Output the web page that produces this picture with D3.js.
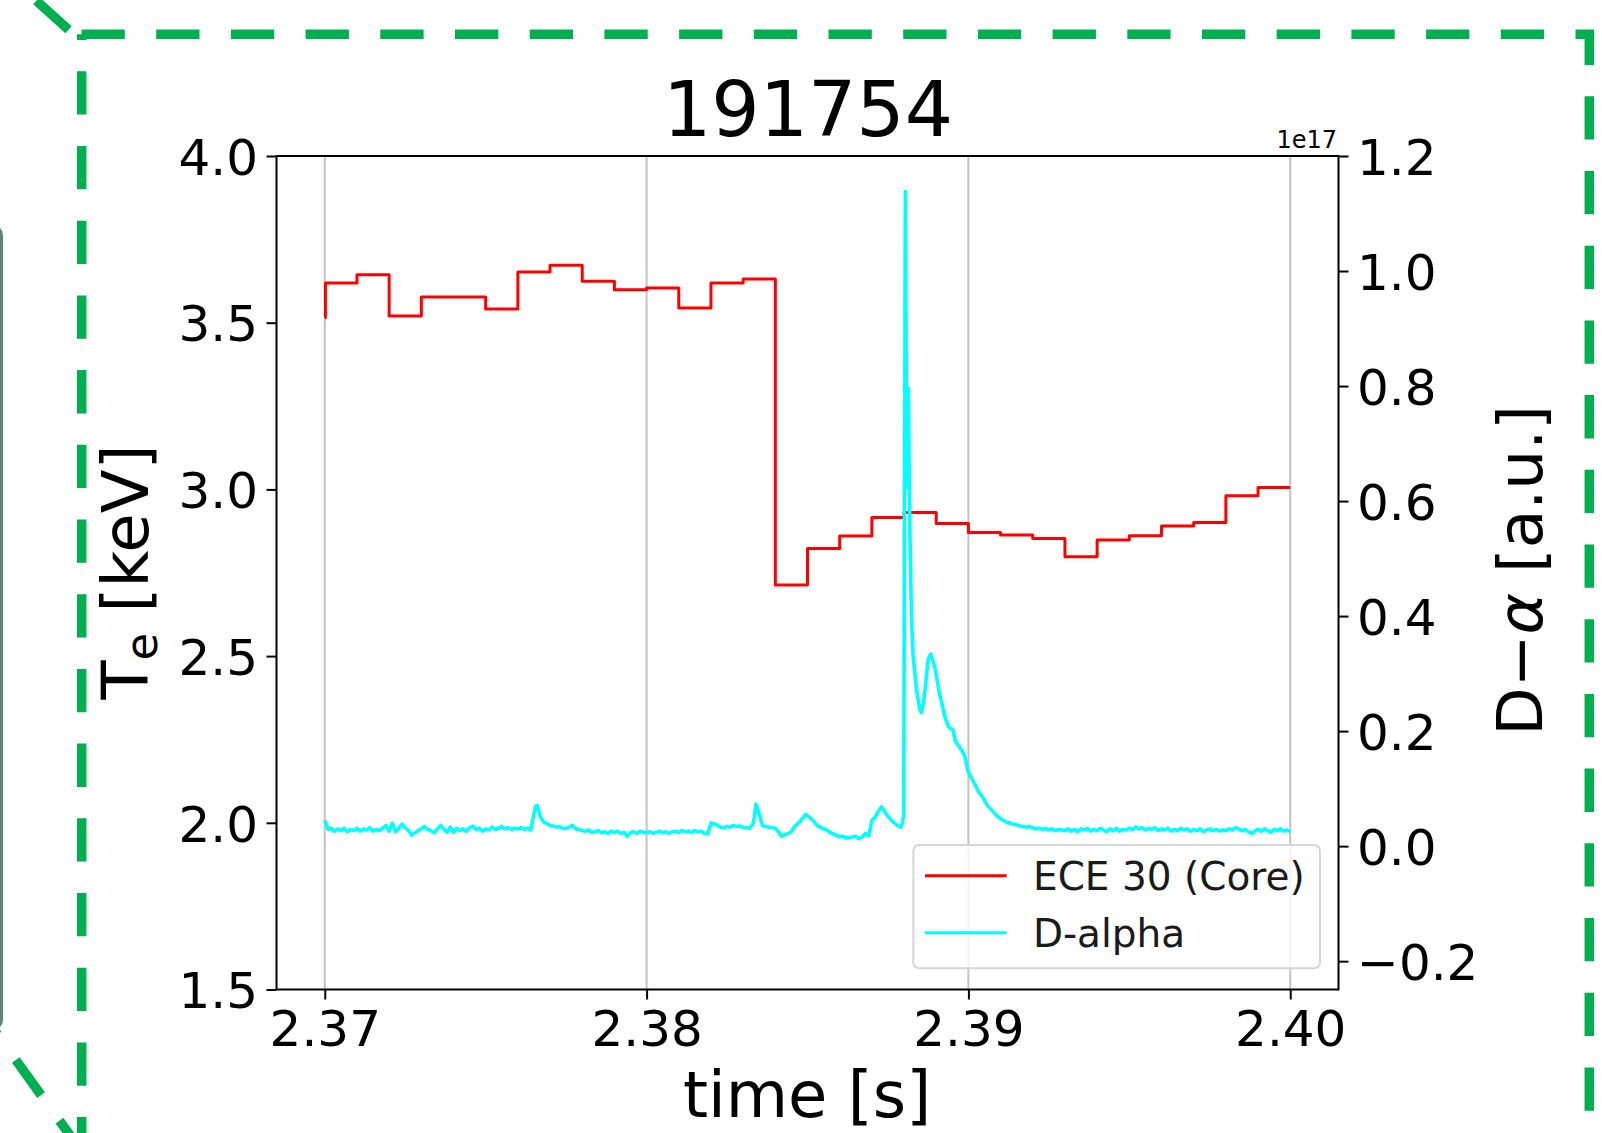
<!DOCTYPE html>
<html>
<head>
<meta charset="utf-8">
<script src="https://cdn.jsdelivr.net/npm/d3@7"></script>
<style>
  html, body { margin: 0; padding: 0; background: #fff; }
  svg { display: block; font-family: "DejaVu Sans", sans-serif; }
</style>
</head>
<body>
<svg id="chart" width="1602" height="1133"></svg>
<script>
/* ============================================================
   Shot 191754: ECE core Te (left axis) and D-alpha (right axis)
   ============================================================ */

const shotTitle = '191754';
const xTicks = [2.37, 2.38, 2.39, 2.40];
const teTicks = [1.5, 2.0, 2.5, 3.0, 3.5, 4.0];
const daTicks = [-0.2, 0.0, 0.2, 0.4, 0.6, 0.8, 1.0, 1.2];
const seriesNames = ['ECE 30 (Core)', 'D-alpha'];

// ECE channel 30, held values (step after each time)
const eceTime = [2.3700, 2.37002, 2.371, 2.372, 2.373, 2.374, 2.375, 2.376, 2.377, 2.378,
    2.379, 2.380, 2.381, 2.382, 2.383, 2.384, 2.385, 2.386, 2.387, 2.388, 2.389,
    2.390, 2.391, 2.392, 2.393, 2.394, 2.395, 2.396, 2.397, 2.398, 2.399, 2.400];
const eceTe = [3.515, 3.619, 3.644, 3.520, 3.577, 3.577, 3.541, 3.652, 3.672, 3.624,
    3.599, 3.604, 3.544, 3.619, 3.631, 2.713, 2.823, 2.860, 2.916, 2.931, 2.898,
    2.871, 2.863, 2.853, 2.798, 2.848, 2.861, 2.890, 2.901, 2.981, 3.006, 3.006];

// D-alpha, [ms after 2.370 s, value in 1e17]
const dAlphaT0 = 2.370;
const dAlpha = [
    [0.0, .045], [0.1, .029], [0.2, .031], [0.3, .026], [0.4, .030], [0.5, .027], [0.6, .031], [0.7, .025], [0.8, .029], [0.9, .027],
    [1.0, .031], [1.1, .026], [1.2, .030], [1.3, .028], [1.4, .032], [1.5, .026], [1.6, .029], [1.7, .027], [1.8, .031], [1.9, .036],
    [2.0, .026], [2.1, .040], [2.2, .025], [2.3, .031], [2.4, .038], [2.5, .032], [2.6, .027], [2.7, .019], [2.8, .023], [2.9, .027],
    [3.0, .030], [3.1, .034], [3.2, .029], [3.3, .027], [3.4, .023], [3.5, .030], [3.6, .036], [3.7, .029], [3.8, .024], [3.9, .033],
    [4.0, .024], [4.1, .031], [4.2, .027], [4.3, .030], [4.4, .026], [4.5, .032], [4.6, .035], [4.7, .029], [4.8, .031], [4.9, .026],
    [5.0, .030], [5.1, .028], [5.2, .033], [5.3, .029], [5.4, .031], [5.5, .034], [5.6, .030], [5.7, .032], [5.8, .029], [5.9, .031],
    [6.0, .030], [6.1, .032], [6.2, .029], [6.3, .031], [6.4, .028], [6.45, .042], [6.55, .069], [6.6, .071], [6.7, .051], [6.8, .042],
    [6.9, .039], [7.0, .036], [7.1, .035], [7.2, .033], [7.3, .034], [7.4, .031], [7.5, .031], [7.6, .033], [7.7, .036], [7.8, .030],
    [7.9, .029], [8.0, .027], [8.1, .026], [8.2, .028], [8.3, .024], [8.4, .025], [8.5, .027], [8.6, .023], [8.7, .025], [8.8, .022],
    [8.9, .026], [9.0, .024], [9.1, .026], [9.2, .022], [9.3, .024], [9.4, .017], [9.5, .023], [9.6, .025], [9.7, .022], [9.8, .026],
    [9.9, .024], [10.0, .023], [10.1, .025], [10.2, .022], [10.3, .024], [10.4, .026], [10.5, .023], [10.6, .025], [10.7, .022], [10.8, .025],
    [10.9, .026], [11.0, .024], [11.1, .027], [11.2, .025], [11.3, .026], [11.4, .024], [11.5, .027], [11.6, .025], [11.7, .026], [11.8, .022],
    [11.9, .021], [12.0, .040], [12.1, .039], [12.2, .036], [12.3, .033], [12.4, .032], [12.5, .034], [12.6, .033], [12.7, .036], [12.8, .034],
    [12.9, .035], [13.0, .033], [13.1, .032], [13.2, .031], [13.3, .038], [13.35, .051], [13.4, .073], [13.5, .056], [13.6, .036], [13.7, .034],
    [13.8, .033], [13.9, .032], [14.0, .031], [14.1, .025], [14.2, .017], [14.3, .020], [14.4, .022], [14.5, .025], [14.6, .034], [14.7, .039],
    [14.8, .045], [14.9, .052], [14.95, .055], [15.0, .053], [15.1, .048], [15.2, .043], [15.3, .036], [15.4, .033], [15.5, .030], [15.6, .028],
    [15.7, .024], [15.8, .021], [15.9, .019], [16.0, .016], [16.1, .017], [16.2, .014], [16.3, .015], [16.4, .016], [16.5, .017], [16.6, .013],
    [16.7, .016], [16.8, .022], [16.9, .018], [17.0, .045], [17.1, .050], [17.2, .060], [17.3, .068], [17.4, .060], [17.5, .052], [17.6, .046],
    [17.7, .040], [17.8, .036], [17.9, .033], [17.95, .040], [17.99, .056], [18.04, 1.138], [18.09, .624], [18.13, .796], [18.18, .550], [18.23, .400],
    [18.28, .332], [18.39, .271], [18.49, .237], [18.54, .232], [18.60, .248], [18.65, .271], [18.75, .325], [18.83, .334], [18.90, .322], [18.96, .310],
    [19.04, .285], [19.11, .263], [19.20, .242], [19.27, .225], [19.37, .209], [19.45, .204], [19.52, .202], [19.58, .186], [19.63, .179], [19.73, .172],
    [19.80, .166], [19.89, .156], [19.99, .130], [20.10, .118], [20.20, .108], [20.30, .096], [20.46, .084], [20.60, .070], [20.77, .060], [20.90, .052],
    [21.08, .045], [21.2, .041], [21.3, .040], [21.4, .038], [21.5, .037], [21.6, .035], [21.7, .034], [21.8, .033], [21.9, .034], [22.0, .032],
    [22.1, .030], [22.2, .031], [22.3, .029], [22.4, .031], [22.5, .028], [22.6, .030], [22.7, .027], [22.8, .029], [22.9, .028], [23.0, .027],
    [23.1, .030], [23.2, .026], [23.3, .029], [23.4, .025], [23.5, .030], [23.6, .028], [23.7, .031], [23.8, .026], [23.9, .029], [24.0, .027],
    [24.1, .031], [24.2, .028], [24.3, .025], [24.4, .030], [24.5, .027], [24.6, .031], [24.7, .026], [24.8, .029], [24.9, .028], [25.0, .031],
    [25.1, .029], [25.2, .033], [25.3, .030], [25.4, .032], [25.5, .028], [25.6, .031], [25.7, .029], [25.8, .032], [25.9, .027], [26.0, .030],
    [26.1, .028], [26.2, .031], [26.3, .026], [26.4, .029], [26.5, .027], [26.6, .031], [26.7, .028], [26.8, .030], [26.9, .026], [27.0, .029],
    [27.1, .027], [27.2, .030], [27.3, .025], [27.4, .028], [27.5, .030], [27.6, .027], [27.7, .029], [27.8, .026], [27.9, .028], [28.0, .027],
    [28.1, .030], [28.2, .028], [28.3, .032], [28.4, .030], [28.5, .027], [28.6, .029], [28.7, .025], [28.8, .022], [28.9, .026], [29.0, .029],
    [29.1, .026], [29.2, .030], [29.3, .027], [29.4, .024], [29.5, .029], [29.6, .027], [29.7, .030], [29.8, .026], [29.9, .028], [30.0, .025]
];

const COLORS = { ece: '#ff0000', dalpha: '#00ffff', frame: '#00b050', grid: '#b0b0b0' };

const svg = d3.select('#chart');
const plot = { left: 276.5, right: 1338.5, top: 156, bottom: 989.5 };

const x = d3.scaleLinear().domain([2.3685, 2.4015]).range([plot.left, plot.right]);
const yTe = d3.scaleLinear().domain([1.5, 4.0]).range([plot.bottom, plot.top]);
const yDa = d3.scaleLinear().domain([-0.2493, 1.2]).range([plot.bottom, plot.top]);

/**
 * Slide annotation: dashed green frame and the grey box edge on the left
 */
function drawFrame() {
    const g = svg.append('g');
    const dash = '43.3 31.4';
    const line = (x1, y1, x2, y2, offset) => g.append('line')
        .attr('x1', x1).attr('y1', y1).attr('x2', x2).attr('y2', y2)
        .attr('stroke', COLORS.frame).attr('stroke-width', 9.5)
        .attr('stroke-dasharray', dash).attr('stroke-dashoffset', offset);

    line(81.5, 34.3, 1594, 34.3, 0);           // top
    line(81.7, 34.3, 81.7, 1140, 37.7);        // left
    line(1589.3, 34.3, 1589.3, 1140, 12.7);    // right
    line(80, 40, -40, -68, 59.3);              // diagonal to top-left
    line(15.8, 1060, 90, 1163, 0);             // diagonal to bottom-left
    line(15.8, 1060, -20, 1010, 74.7 - 31.4);

    g.append('rect')
        .attr('x', -40).attr('y', 227).attr('width', 41.5).attr('height', 801)
        .attr('rx', 8)
        .attr('fill', 'none').attr('stroke', '#5e857c').attr('stroke-width', 3);
}

/**
 * Grid, lines, spines and ticks
 */
function drawChart() {
    // vertical grid at x ticks
    svg.append('g').selectAll('line')
        .data(xTicks).enter().append('line')
        .attr('x1', d => x(d)).attr('x2', d => x(d))
        .attr('y1', plot.top).attr('y2', plot.bottom)
        .attr('stroke', COLORS.grid).attr('stroke-width', 2).attr('opacity', 0.75);

    svg.append('clipPath').attr('id', 'plotClip').append('rect')
        .attr('x', plot.left).attr('y', plot.top)
        .attr('width', plot.right - plot.left).attr('height', plot.bottom - plot.top);

    // ECE Te (step)
    const eceLine = d3.line()
        .x((d, i) => x(eceTime[i]))
        .y(d => yTe(d))
        .curve(d3.curveStepAfter);
    svg.append('path')
        .attr('d', eceLine(eceTe))
        .attr('clip-path', 'url(#plotClip)')
        .attr('fill', 'none').attr('stroke', COLORS.ece)
        .attr('stroke-width', 3).attr('stroke-linejoin', 'round');

    // D-alpha on twin axis
    const daLine = d3.line()
        .x(d => x(dAlphaT0 + d[0] / 1000))
        .y(d => yDa(d[1]));
    svg.append('path')
        .attr('d', daLine(dAlpha))
        .attr('clip-path', 'url(#plotClip)')
        .attr('fill', 'none').attr('stroke', COLORS.dalpha)
        .attr('stroke-width', 3.6).attr('stroke-linejoin', 'round');

    // axes
    const tickFont = 50;
    const styleAxis = sel => {
        sel.select('.domain').remove();
        sel.selectAll('.tick line').attr('stroke', '#000').attr('stroke-width', 2);
        sel.selectAll('.tick text')
            .attr('fill', '#000')
            .style('font-size', tickFont + 'px')
            .style('font-family', '"DejaVu Sans", sans-serif');
    };

    const gx = svg.append('g')
        .attr('transform', `translate(0,${plot.bottom})`)
        .call(d3.axisBottom(x).tickValues(xTicks).tickFormat(d3.format('.2f')).tickSize(10))
        .call(styleAxis);
    gx.selectAll('.tick text').attr('dy', null).attr('y', 56.5);

    const gl = svg.append('g')
        .attr('transform', `translate(${plot.left},0)`)
        .call(d3.axisLeft(yTe).tickValues(teTicks).tickFormat(d3.format('.1f')).tickSize(10))
        .call(styleAxis);
    gl.selectAll('.tick text').attr('x', -18.5).attr('dy', '0.365em');

    const gr = svg.append('g')
        .attr('transform', `translate(${plot.right},0)`)
        .call(d3.axisRight(yDa).tickValues(daTicks).tickFormat(d3.format('.1f')).tickSize(10))
        .call(styleAxis);
    gr.selectAll('.tick text').attr('x', 18.5).attr('dy', '0.365em');

    // spines
    svg.append('rect')
        .attr('x', plot.left).attr('y', plot.top)
        .attr('width', plot.right - plot.left).attr('height', plot.bottom - plot.top)
        .attr('fill', 'none').attr('stroke', '#000').attr('stroke-width', 2);

    // offset text of the twin axis
    svg.append('text')
        .attr('x', 1337).attr('y', 147.5)
        .attr('text-anchor', 'end')
        .style('font-size', '24px')
        .text('1e17');
}

/**
 * Title, axis labels and legend
 */
function drawLabels() {
    svg.append('text')
        .attr('x', 808).attr('y', 136)
        .attr('text-anchor', 'middle')
        .style('font-size', '76px')
        .text(shotTitle);

    svg.append('text')
        .attr('x', 807).attr('y', 1116.5)
        .attr('text-anchor', 'middle')
        .style('font-size', '64px')
        .text('time [s]');

    // T_e [keV]
    const yl = svg.append('text')
        .attr('transform', 'translate(148,572) rotate(-90)')
        .attr('text-anchor', 'middle')
        .style('font-size', '64px');
    yl.append('tspan').text('T');
    yl.append('tspan').attr('dy', 9).style('font-size', '45px').text('e');
    yl.append('tspan').attr('dy', -9).text(' [keV]');

    // D-alpha [a.u.]
    const yr = svg.append('text')
        .attr('transform', 'translate(1541.7,570.5) rotate(-90)')
        .attr('text-anchor', 'middle')
        .style('font-size', '63px');
    yr.append('tspan').text('D\u2212');
    yr.append('tspan').style('font-style', 'italic').text('\u03b1');
    yr.append('tspan').text(' [a.u.]');

    // legend
    const lg = svg.append('g');
    lg.append('rect')
        .attr('x', 913.3).attr('y', 845)
        .attr('width', 406.7).attr('height', 123.3)
        .attr('rx', 6)
        .attr('fill', '#fff').attr('fill-opacity', 0.8)
        .attr('stroke', '#d6d6d6').attr('stroke-width', 2);

    const rows = [
        { name: seriesNames[0], color: COLORS.ece, y: 875.7 },
        { name: seriesNames[1], color: COLORS.dalpha, y: 932.7 }
    ];
    rows.forEach(r => {
        lg.append('line')
            .attr('x1', 925).attr('x2', 1006.7)
            .attr('y1', r.y).attr('y2', r.y)
            .attr('stroke', r.color).attr('stroke-width', 3);
        lg.append('text')
            .attr('x', 1033).attr('y', r.y + 14.5)
            .style('font-size', '39px')
            .attr('fill', '#1a1a1a')
            .text(r.name);
    });
}

drawChart();
drawLabels();
drawFrame();
</script>
</body>
</html>
